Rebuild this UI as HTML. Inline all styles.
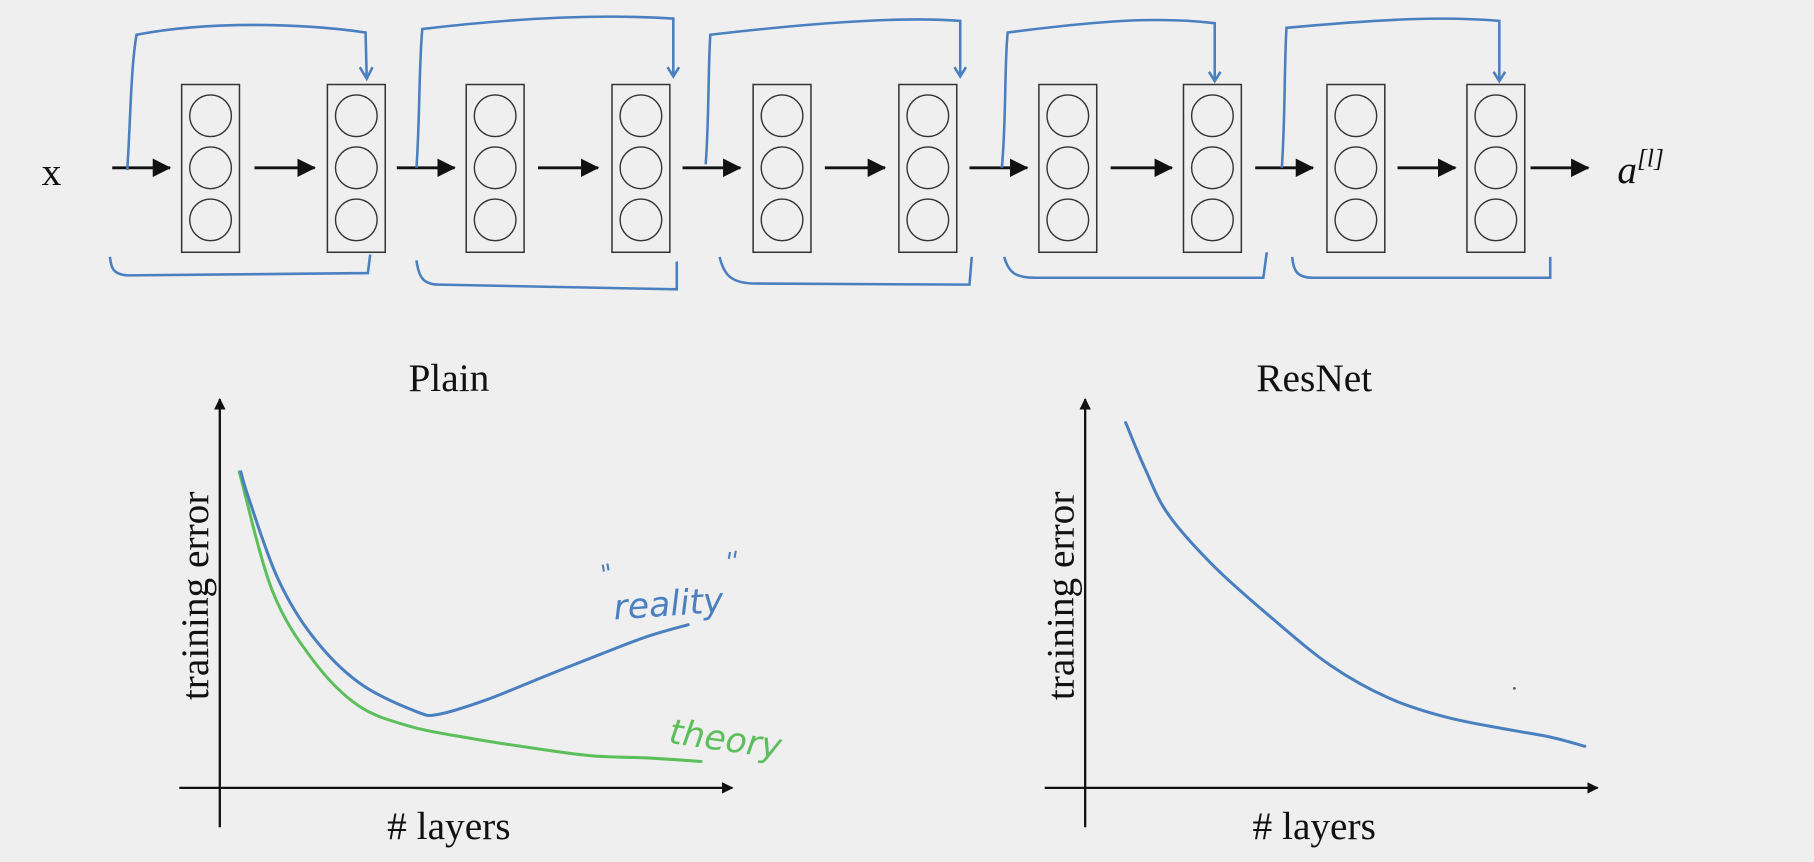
<!DOCTYPE html>
<html><head><meta charset="utf-8"><style>
html,body{margin:0;padding:0;background:#efefef;}
svg{display:block;}
text{font-family:"Liberation Serif",serif;fill:#111;}
</style></head><body>
<svg id="s" width="1814" height="862" viewBox="0 0 1568 745">
<rect width="1568" height="745" fill="#efefef"/>
<g id="net"></g>
<g id="c1"></g>
<g id="c2"></g>
</svg>
<script>
const realityX=[4.1,5.6,11.3,18.1,27.1,38.4,42.9,51.9,63.2,74.5,83.5,91.4];
const realityY=[81.3,74.7,53.9,39.0,27.1,19.6,19.0,22.6,28.6,34.5,39.0,42.0];
const theoryX=[3.8,10.2,18.1,27.1,37.2,47.4,58.7,72.2,83.5,93.9];
const theoryY=[81.3,50.9,33.0,21.1,15.8,13.1,10.7,8.3,7.7,6.8];
const resnetX=[7.9,11.7,16.3,25.3,36.6,47.9,59.1,70.4,81.7,90.7,97.5];
const resnetY=[94.0,82.1,70.2,56.8,43.5,31.5,23.2,18.2,15.2,13.1,10.7];
const boxLefts=[157,283,403,529,651,777,898,1023,1147,1268];

const NS='http://www.w3.org/2000/svg';
function mk(p,tag,attrs){const e=document.createElementNS(NS,tag);for(const k in attrs)e.setAttribute(k,attrs[k]);p.appendChild(e);return e;}
const BLUE='#4a7fc0',GREEN='#5cbf5c';
const defs=mk(document.getElementById('s'),'defs',{});
const m=mk(defs,'marker',{id:'ah',markerWidth:'10',markerHeight:'10',refX:'9',refY:'5',orient:'auto',markerUnits:'userSpaceOnUse'});
mk(m,'path',{d:'M0,0 L10,5 L0,10 z',fill:'#111'});
const m2=mk(defs,'marker',{id:'ah2',markerWidth:'16',markerHeight:'16',refX:'15',refY:'8',orient:'auto',markerUnits:'userSpaceOnUse'});
mk(m2,'path',{d:'M0,0 L16,8 L0,16 z',fill:'#111'});

const net=document.getElementById('net');
let t=mk(net,'text',{x:36,y:160,'font-size':34});t.textContent='x';


boxLefts.forEach((bx,i)=>{
  const r=mk(net,'rect',{x:bx,y:73,width:50,height:145,fill:'none',stroke:'#333','stroke-width':1.3});
  
  
  [100,145,190].forEach(cy=>{const c=mk(net,'circle',{cx:bx+25,cy:cy,r:18,fill:'none',stroke:'#333','stroke-width':1.2});
    
    });
});
const arrows=[[97,147],[220,272],[343,393],[465,517],[590,640],[713,765],[838,888],[960,1013],[1085,1135],[1208,1258],[1323,1373]];
arrows.forEach(a=>{const l=mk(net,'line',{x1:a[0],y1:145,x2:a[1],y2:145,stroke:'#111','stroke-width':2.5,'marker-end':'url(#ah2)'});
  
  });
t=mk(net,'text',{x:1398,y:158,'font-size':34,'font-style':'italic'});t.innerHTML='a<tspan font-size="22" dy="-14" font-style="italic">[l]</tspan>';


const skips=['M110,147 C113,100 113,60 118,30 C180,18 260,20 316,28 L317,68 M311,58 L317,68 L322,58',
 'M360,145 C363,100 362,60 365,25 C450,15 520,12 582,16 L582,66 M577,58 L582,66 L587,58',
 'M610,142 C613,100 612,60 614,30 C700,20 780,14 830,18 L830,66 M825,58 L830,66 L835,58',
 'M866,145 C870,100 868,60 871,28 C950,18 1000,14 1050,20 L1050,70 M1045,62 L1050,70 L1055,62',
 'M1108,145 C1111,100 1110,60 1112,24 C1200,16 1250,14 1296,18 L1296,70 M1291,62 L1296,70 L1301,62'];
skips.forEach(d=>{const p=mk(net,'path',{d:d,fill:'none',stroke:BLUE,'stroke-width':2.2});
  
  });
const brackets=['M95,222 C96,232 98,237 110,238 L318,236 L320,220',
 'M360,225 C362,240 366,246 380,246 L585,250 L585,226',
 'M622,222 C626,238 632,244 650,245 L838,246 L840,222',
 'M868,222 C872,236 878,240 895,240 L1092,240 L1095,218',
 'M1117,222 C1118,235 1122,240 1135,240 L1340,240 L1340,222'];
brackets.forEach(d=>{const p=mk(net,'path',{d:d,fill:'none',stroke:BLUE,'stroke-width':2.2});
  
  });

function smooth(pts){
  let d='M'+pts[0][0].toFixed(1)+','+pts[0][1].toFixed(1);
  for(let i=0;i<pts.length-1;i++){
    const p0=pts[Math.max(0,i-1)],p1=pts[i],p2=pts[i+1],p3=pts[Math.min(pts.length-1,i+2)];
    const c1x=p1[0]+(p2[0]-p0[0])/6,c1y=p1[1]+(p2[1]-p0[1])/6;
    const c2x=p2[0]-(p3[0]-p1[0])/6,c2y=p2[1]-(p3[1]-p1[1])/6;
    d+=` C${c1x.toFixed(1)},${c1y.toFixed(1)} ${c2x.toFixed(1)},${c2y.toFixed(1)} ${p2[0].toFixed(1)},${p2[1].toFixed(1)}`;
  }
  return d;
}
function chart(g,x0,title,series){
  const W=443,H=336,yb=681;
  const xs=v=>x0+v/100*W, ys=v=>yb-v/100*H;
  let a=mk(g,'line',{x1:x0,y1:715,x2:x0,y2:345,stroke:'#111','stroke-width':2,'marker-end':'url(#ah)'});
  
  
  a=mk(g,'line',{x1:x0-35,y1:yb,x2:x0+W,y2:yb,stroke:'#111','stroke-width':2,'marker-end':'url(#ah)'});
  
  
  let tt=mk(g,'text',{x:x0+198,y:338,'font-size':34,'text-anchor':'middle'});tt.textContent=title;
  
  
  tt=mk(g,'text',{x:x0+198,y:725,'font-size':34,'text-anchor':'middle'});tt.textContent='# layers';
  
  
  tt=mk(g,'text',{x:0,y:0,'font-size':34,'text-anchor':'middle',transform:`translate(${x0-10},515) rotate(-90)`});tt.textContent='training error';
  
  
  series.forEach(s=>{
    const pts=s.x.map((v,i)=>[xs(v),ys(s.y[i])]);
    const p=mk(g,'path',{d:smooth(pts),fill:'none',stroke:s.c,'stroke-width':2.6,'stroke-linejoin':'round','stroke-linecap':'round'});
    
    
  });
}
const c1=document.getElementById('c1');
chart(c1,190,'Plain',[{x:theoryX,y:theoryY,c:GREEN,name:'theory-line'},{x:realityX,y:realityY,c:BLUE,name:'reality-line'}]);
t=mk(c1,'text',{x:530,y:532,'font-size':30,'font-style':'italic',transform:'rotate(-4 580 520)'});t.textContent='reality';


t.style.fill=BLUE;t.style.fontFamily='"DejaVu Sans",sans-serif';
const q=mk(c1,'path',{d:'M521,488 l1,6 M525,487 l1,6 M631,477 l-1,6 M636,476 l-1,6',stroke:BLUE,'stroke-width':1.8,fill:'none'});


t=mk(c1,'text',{x:578,y:648,'font-size':30,'font-style':'italic',transform:'rotate(8 620 640)'});t.textContent='theory';


t.style.fill=GREEN;t.style.fontFamily='"DejaVu Sans",sans-serif';
const c2=document.getElementById('c2');
chart(c2,938,'ResNet',[{x:resnetX,y:resnetY,c:BLUE,name:'resnet-line'}]);
const dot=mk(c2,'circle',{cx:1309,cy:595,r:1.2,fill:'#557'});


</script>
</body></html>
